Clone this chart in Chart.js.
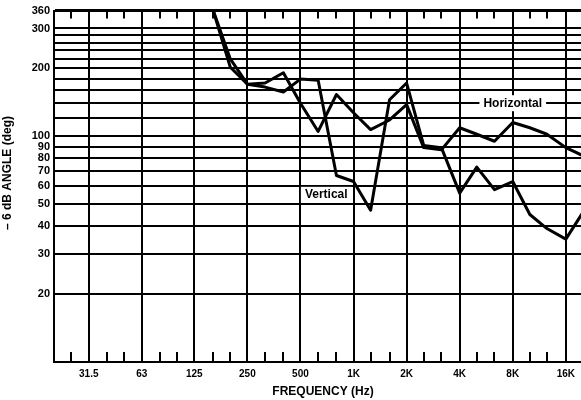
<!DOCTYPE html>
<html>
<head>
<meta charset="utf-8">
<script src="https://cdn.jsdelivr.net/npm/chart.js@4/dist/chart.umd.min.js"></script>
<style>
  html, body { margin: 0; padding: 0; background: #fff; }
  #wrap { width: 581px; height: 400px; }
</style>
</head>
<body>
<div id="wrap"><canvas id="c" width="581" height="400"></canvas></div>
<script>
// -6 dB coverage angle versus frequency, horizontal and vertical planes
const frequencies = [20, 160, 200, 250, 315, 400, 500, 630, 800, 1000, 1250, 1600, 2000,
                     2500, 3150, 4000, 5000, 6300, 8000, 10000, 12500, 16000, 20000];
const horizontal  = [360, 360, 220, 170, 172, 191, 140, 105, 153, 127, 107, 118, 138,
                     89, 87, 109, 102, 95, 115, 109, 102, 89, 82];
const vertical    = [360, 360, 202, 170, 165, 157, 179, 177, 67, 63, 47, 145, 172,
                     91, 89, 56, 73, 58, 63, 45, 39, 35, 46];

const octaveTicks  = [31.5, 63, 125, 250, 500, 1000, 2000, 4000, 8000, 16000];
const octaveLabels = ['31.5', '63', '125', '250', '500', '1K', '2K', '4K', '8K', '16K'];
const thirdOctaveTicks = [25, 40, 50, 80, 100, 160, 200, 315, 400, 630, 800, 1250, 1600,
                          2500, 3150, 5000, 6300, 10000, 12500];
const angleGrid   = [20, 30, 40, 50, 60, 70, 80, 90, 100, 120, 140, 160, 180, 200,
                     220, 240, 260, 280, 300, 360];
const angleLabels = [20, 30, 40, 50, 60, 70, 80, 90, 100, 200, 300, 360];

const FONT = 'Liberation Sans, Arial, Helvetica, sans-serif';

const toPoints = vals => frequencies.map((f, i) => ({ x: f, y: vals[i] }));

// Third-octave tick marks, curve labels and axis titles
const decorations = {
  id: 'decorations',
  beforeDatasetsDraw(chart) {
    const { ctx, chartArea, scales } = chart;
    const xs = scales.x, ys = scales.y;
    ctx.save();
    ctx.strokeStyle = '#000';
    ctx.lineWidth = 2;
    thirdOctaveTicks.forEach(f => {
      const px = Math.round(xs.getPixelForValue(f));
      ctx.beginPath();
      ctx.moveTo(px, chartArea.bottom);
      ctx.lineTo(px, chartArea.bottom - 10);
      ctx.moveTo(px, chartArea.top);
      ctx.lineTo(px, chartArea.top + 8);
      ctx.stroke();
    });

    ctx.font = 'bold 12px ' + FONT;
    ctx.textAlign = 'center';
    ctx.textBaseline = 'middle';
    const tag = (text, f, v) => {
      const px = xs.getPixelForValue(f);
      const py = ys.getPixelForValue(v);
      const w = ctx.measureText(text).width + 8;
      ctx.fillStyle = '#fff';
      ctx.fillRect(px - w / 2, py - 8, w, 16);
      ctx.fillStyle = '#000';
      ctx.fillText(text, px, py);
    };
    tag('Horizontal', 8000, 140);
    tag('Vertical', 700, 55);
    ctx.restore();
  },
  afterDraw(chart) {
    const { ctx } = chart;
    ctx.save();
    ctx.fillStyle = '#000';
    ctx.font = 'bold 12px ' + FONT;
    ctx.textAlign = 'center';
    ctx.textBaseline = 'middle';
    ctx.fillText('FREQUENCY (Hz)', 323, 392);
    ctx.translate(8, 173);
    ctx.rotate(-Math.PI / 2);
    ctx.fillText('\u2013 6 dB ANGLE (deg)', 0, 0);
    ctx.restore();
  }
};

new Chart(document.getElementById('c'), {
  type: 'line',
  data: {
    datasets: [
      { label: 'Horizontal', data: toPoints(horizontal), borderColor: '#000', borderWidth: 3 },
      { label: 'Vertical', data: toPoints(vertical), borderColor: '#000', borderWidth: 3 }
    ]
  },
  options: {
    responsive: false,
    animation: false,
    layout: { padding: { top: 10, right: 0, left: 0, bottom: 0 } },
    plugins: { legend: { display: false }, tooltip: { enabled: false } },
    elements: {
      point: { radius: 0 },
      line: { tension: 0, borderJoinStyle: 'round', borderCapStyle: 'round' }
    },
    scales: {
      x: {
        type: 'logarithmic',
        min: 20,
        max: 19500,
        afterBuildTicks: s => { s.ticks = octaveTicks.map(v => ({ value: v })); },
        afterFit: s => { s.height = 38; },
        grid: { color: '#000', lineWidth: 2, drawTicks: false },
        border: { display: true, color: '#000', width: 2 },
        ticks: {
          autoSkip: false, maxRotation: 0, padding: 6, color: '#000',
          font: { family: FONT, weight: 'bold', size: 10 },
          callback: (v, i) => octaveLabels[i]
        }
      },
      y: {
        type: 'logarithmic',
        min: 10,
        max: 360,
        afterBuildTicks: s => { s.ticks = angleGrid.map(v => ({ value: v })); },
        afterFit: s => { s.width = 54; },
        grid: {
          color: '#000',
          lineWidth: c => (c.tick && c.tick.value === 360 ? 3 : 2),
          drawTicks: false
        },
        border: { display: true, color: '#000', width: 2 },
        ticks: {
          autoSkip: false, padding: 4, color: '#000',
          font: { family: FONT, weight: 'bold', size: 11 },
          callback: v => (angleLabels.includes(v) ? String(v) : '')
        }
      }
    }
  },
  plugins: [decorations]
});
</script>
</body>
</html>
